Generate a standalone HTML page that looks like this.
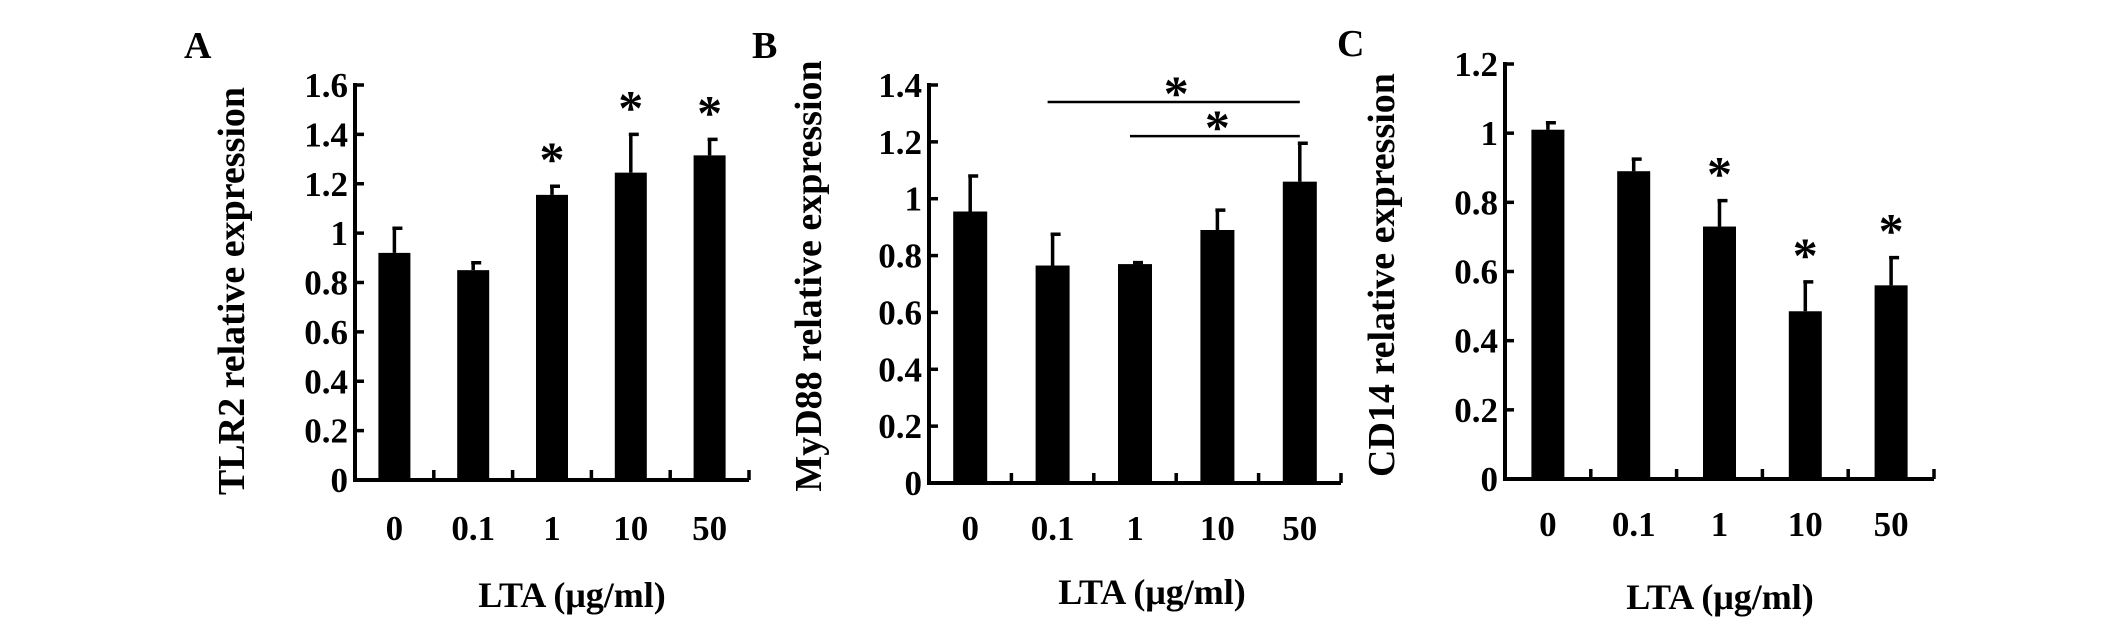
<!DOCTYPE html>
<html><head><meta charset="utf-8"><style>
html,body{margin:0;padding:0;background:#fff}
svg{display:block}
text{font-family:"Liberation Serif",serif;font-weight:bold;fill:#000}
</style></head><body>
<svg id="fig" width="2126" height="623" viewBox="0 0 2126 623" xmlns="http://www.w3.org/2000/svg"></svg>
<script>
const categories = ["0","0.1","1","10","50"];
const tlr2Values = [0.92,0.85,1.155,1.245,1.315];
const tlr2Errors = [0.10,0.03,0.035,0.155,0.065];
const tlr2Stars = [false,false,true,true,true];
const tlr2Ticks = ["0","0.2","0.4","0.6","0.8","1","1.2","1.4","1.6"];
const myd88Values = [0.955,0.765,0.77,0.89,1.06];
const myd88Errors = [0.125,0.11,0.005,0.07,0.135];
const myd88Ticks = ["0","0.2","0.4","0.6","0.8","1","1.2","1.4"];
const myd88Brackets = [[1,4,1.34],[2,4,1.22]];
const cd14Values = [1.01,0.89,0.73,0.485,0.56];
const cd14Errors = [0.02,0.035,0.075,0.085,0.08];
const cd14Stars = [false,false,true,true,true];
const cd14Ticks = ["0","0.2","0.4","0.6","0.8","1","1.2"];

const NS="http://www.w3.org/2000/svg";
const svg=document.getElementById('fig');
function mk(tag,attrs,parent){const e=document.createElementNS(NS,tag);for(const k in attrs)e.setAttribute(k,attrs[k]);(parent||svg).appendChild(e);return e;}

function panel(cfg){
  const g=mk('g',{});
  
  
  const ymax=parseFloat(cfg.ticks[cfg.ticks.length-1]);
  const y=v=>cfg.y0-(v/ymax)*(cfg.y0-cfg.yTop);
  const n=categories.length;
  const cw=(cfg.xEnd-cfg.x0)/n;
  const xc=i=>cfg.x0+cw*(i+0.5);
  const ya=mk('line',{x1:cfg.x0,y1:cfg.yTop-2,x2:cfg.x0,y2:cfg.y0+2,stroke:'#000','stroke-width':4},g);
  
  
  const xa=mk('line',{x1:cfg.x0-2,y1:cfg.y0,x2:cfg.xEnd,y2:cfg.y0,stroke:'#000','stroke-width':4},g);
  
  
  cfg.ticks.forEach(t=>{
    const v=parseFloat(t);
    mk('line',{x1:cfg.x0,y1:y(v),x2:cfg.x0+9,y2:y(v),stroke:'#000','stroke-width':3.5},g);
    const tx=mk('text',{x:cfg.x0-7,y:y(v)+12,'text-anchor':'end','font-size':35},g);
    tx.textContent=t;
    
    
  });
  for(let i=1;i<=n;i++){
    const xx=cfg.x0+cw*i;
    mk('line',{x1:xx,y1:cfg.y0,x2:xx,y2:cfg.y0-10,stroke:'#000','stroke-width':3.5},g);
  }
  categories.forEach((c,i)=>{
    const tx=mk('text',{x:xc(i),y:cfg.xLabY,'text-anchor':'middle','font-size':35},g);
    tx.textContent=c;
    
    
    const v=cfg.values[i],e=cfg.errors[i];
    const b=mk('rect',{x:xc(i)-cfg.bw/2,y:y(v),width:cfg.bw,height:cfg.y0-y(v),fill:'#000'},g);
    
    
    const eg=mk('path',{d:`M${xc(i)},${y(v)} V${y(v+e)} M${xc(i)-2},${y(v+e)} H${xc(i)+8}`,stroke:'#000','stroke-width':3.5,fill:'none'},g);
    
    
    if(cfg.stars&&cfg.stars[i]){
      const s=mk('text',{x:xc(i),y:y(v+e)+cfg.starGap,'text-anchor':'middle','font-size':50},g);
      s.textContent='*';
      
      
    }
  });
  if(cfg.brackets){cfg.brackets.forEach(br=>{
    const l=mk('line',{x1:xc(br[0])-5,y1:y(br[2]),x2:xc(br[1]),y2:y(br[2]),stroke:'#000','stroke-width':2.5},g);
    
    
    const s=mk('text',{x:(xc(br[0])+xc(br[1]))/2,y:y(br[2])+8,'text-anchor':'middle','font-size':50},g);
    s.textContent='*';
    
    
  });}
  const yt=mk('text',{x:0,y:0,'text-anchor':'middle','font-size':38,transform:`translate(${cfg.ytX},${cfg.ytY}) rotate(-90)`},g);
  yt.textContent=cfg.ytitle;
  
  
  const xt=mk('text',{x:cfg.xtX,y:cfg.xtY,'text-anchor':'middle','font-size':36},g);
  xt.textContent='LTA (μg/ml)';
  
  
  const pl=mk('text',{x:cfg.plX,y:cfg.plY,'font-size':38},g);
  pl.textContent=cfg.letter;
  
  
}

panel({id:'tlr2',letter:'A',values:tlr2Values,errors:tlr2Errors,stars:tlr2Stars,ticks:tlr2Ticks,
  x0:355,xEnd:749,y0:480,yTop:85,bw:32,starGap:-10,xLabY:540,
  ytitle:'TLR2  relative expression',ytX:244,ytY:291,xtX:572,xtY:607,plX:184,plY:58});
panel({id:'myd88',letter:'B',values:myd88Values,errors:myd88Errors,ticks:myd88Ticks,brackets:myd88Brackets,
  x0:929,xEnd:1341,y0:483,yTop:85,bw:34,starGap:-10,xLabY:540,
  ytitle:'MyD88 relative expression',ytX:821,ytY:276,xtX:1152,xtY:604,plX:752,plY:58});
panel({id:'cd14',letter:'C',values:cd14Values,errors:cd14Errors,stars:cd14Stars,ticks:cd14Ticks,
  x0:1505,xEnd:1934,y0:479,yTop:64,bw:33,starGap:-10,xLabY:536,
  ytitle:'CD14  relative expression',ytX:1394,ytY:275,xtX:1720,xtY:609,plX:1337,plY:56});
</script>
</body></html>
